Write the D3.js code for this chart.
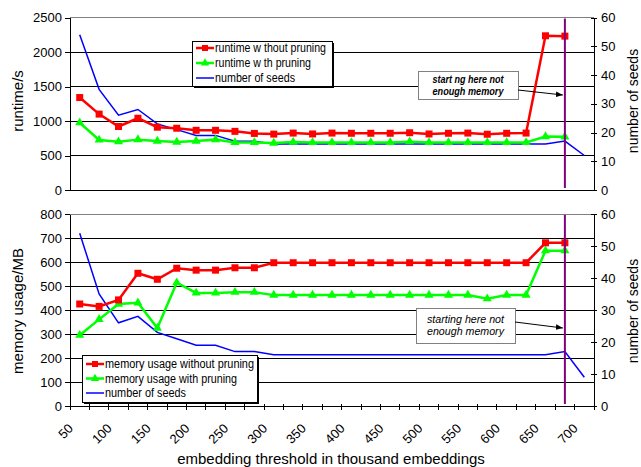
<!DOCTYPE html>
<html lang="en">
<head>
<meta charset="UTF-8">
<title>Runtime and memory vs embedding threshold</title>
<script src="https://d3js.org/d3.v7.min.js"></script>
<style>
    body { margin: 0; background: #fff; }
    svg { display: block; font-family: "Liberation Sans", Arial, sans-serif; }
    .axis text { font-size: 13px; fill: #000; font-family: "Liberation Sans", Arial, sans-serif; }
    .axis path, .axis line { stroke: #000; shape-rendering: crispEdges; }
    .grid { stroke-width: 1; shape-rendering: crispEdges; }
    .line { fill: none; }
    .legend text { font-size: 12px; }
</style>
</head>
<body>
<svg width="641" height="467"></svg>
<script>
    // categories (thousand embeddings)
    const thresholds = [50, 75, 100, 125, 150, 175, 200, 225, 250, 275, 300, 325, 350, 375,
        400, 425, 450, 475, 500, 525, 550, 575, 600, 625, 650, 675, 700];
    const xLabels = [50, 100, 150, 200, 250, 300, 350, 400, 450, 500, 550, 600, 650, 700];

    // top chart: runtime in seconds
    const runtimeWithout = [1340, 1100, 920, 1040, 910, 895, 865, 865, 850, 820, 810, 825, 812,
        825, 822, 822, 822, 830, 812, 822, 825, 808, 822, 825, 2235, 2230];
    const runtimeWith = [975, 725, 700, 730, 710, 695, 710, 730, 690, 690, 680, 695, 690,
        690, 690, 690, 690, 700, 690, 690, 690, 690, 690, 690, 775, 770];
    const seedsTop = [54, 35, 26, 28, 23, 21, 19, 19, 17, 17, 16, 16, 16, 16, 16, 16, 16, 16,
        16, 16, 16, 16, 16, 16, 16, 17, 12];

    // bottom chart: memory usage in MB
    const memWithout = [425, 415, 442, 553, 528, 574, 566, 566, 576, 576, 597, 597, 597, 597,
        597, 597, 597, 597, 597, 597, 597, 597, 597, 597, 680, 680];
    const memWith = [295, 361, 425, 430, 325, 514, 471, 471, 474, 474, 462, 462, 462, 462,
        462, 462, 462, 462, 462, 462, 462, 447, 462, 462, 647, 647];
    const seedsBottom = [54, 35, 26, 28, 23, 21, 19, 19, 17, 17, 16, 16, 16, 16, 16, 16, 16, 16,
        16, 16, 16, 16, 16, 16, 16, 17, 9];

    const runtimeTicks = [0, 500, 1000, 1500, 2000, 2500];
    const memTicks = [0, 100, 200, 300, 400, 500, 600, 700, 800];
    const seedTicks = [0, 10, 20, 30, 40, 50, 60];
    const memoryLimitAt = 675;

    const svg = d3.select("svg");
    const left = 70, right = 594;

    const x = d3.scaleBand().domain(thresholds).range([left, right]);
    const cx = v => x(v) + x.bandwidth() / 2;

    const red = "#ff0000", green = "#00ff00", blue = "#0000ff", purple = "#800080";

    svg.append("defs").append("marker")
        .attr("id", "arrow")
        .attr("viewBox", "0 0 10 10")
        .attr("refX", 10).attr("refY", 5)
        .attr("markerWidth", 7).attr("markerHeight", 7)
        .attr("orient", "auto")
        .append("path").attr("d", "M0,1L10,5L0,9Z").attr("fill", "#000");

    function panel(cfg) {
        const yL = d3.scaleLinear().domain([0, d3.max(cfg.leftTicks)]).range([cfg.bottom, cfg.top]);
        const yR = d3.scaleLinear().domain([0, 60]).range([cfg.bottom, cfg.top]);
        const g = svg.append("g");

        // gridlines (top one is the grey plot border)
        g.selectAll(".grid").data(cfg.leftTicks.slice(1)).join("line")
            .attr("class", "grid")
            .attr("x1", left).attr("x2", right)
            .attr("y1", d => yL(d)).attr("y2", d => yL(d))
            .attr("stroke", (d, i, n) => i === n.length - 1 ? "#808080" : "#000");

        // left axis
        g.append("g").attr("class", "axis")
            .attr("transform", "translate(" + left + ",0)")
            .call(d3.axisLeft(yL).tickValues(cfg.leftTicks).tickFormat(d3.format("d"))
                .tickSize(5).tickSizeOuter(0).tickPadding(3));

        // right axis, ticks cross the line
        const ra = g.append("g").attr("class", "axis")
            .attr("transform", "translate(" + right + ",0)")
            .call(d3.axisRight(yR).tickValues(seedTicks).tickSize(3).tickSizeOuter(0).tickPadding(4));
        ra.selectAll(".tick line").attr("x1", -3);

        // bottom axis line
        g.append("line")
            .attr("x1", left).attr("x2", right)
            .attr("y1", cfg.bottom).attr("y2", cfg.bottom)
            .attr("stroke", "#000").attr("shape-rendering", "crispEdges");

        // axis titles
        g.append("text")
            .attr("transform", "translate(23," + cfg.labelY + ") rotate(-90)")
            .attr("text-anchor", "middle").attr("font-size", 15)
            .text(cfg.leftLabel);
        g.append("text")
            .attr("transform", "translate(638," + cfg.labelY + ") rotate(-90)")
            .attr("text-anchor", "middle").attr("font-size", 14)
            .text("number of seeds");

        const lineL = d3.line().x((d, i) => cx(thresholds[i])).y(d => yL(d));
        const lineR = d3.line().x((d, i) => cx(thresholds[i])).y(d => yR(d));

        g.append("path").attr("class", "line").attr("d", lineR(cfg.seeds))
            .attr("stroke", blue).attr("stroke-width", 1.5);
        g.append("path").attr("class", "line").attr("d", lineL(cfg.withPruning))
            .attr("stroke", green).attr("stroke-width", 2.5);
        g.append("path").attr("class", "line").attr("d", lineL(cfg.withoutPruning))
            .attr("stroke", red).attr("stroke-width", 2.5);

        g.selectAll(".tri").data(cfg.withPruning).join("path")
            .attr("transform", (d, i) => "translate(" + cx(thresholds[i]) + "," + yL(d) + ")")
            .attr("d", d3.symbol(d3.symbolTriangle, 36)).attr("fill", green);
        g.selectAll(".sq").data(cfg.withoutPruning).join("path")
            .attr("transform", (d, i) => "translate(" + cx(thresholds[i]) + "," + yL(d) + ")")
            .attr("d", d3.symbol(d3.symbolSquare, 49)).attr("fill", red);

        // memory limit line
        g.append("line")
            .attr("x1", cx(memoryLimitAt)).attr("x2", cx(memoryLimitAt))
            .attr("y1", cfg.top + 1).attr("y2", cfg.bottom - 2)
            .attr("stroke", purple).attr("stroke-width", 2);

        // note
        const n = cfg.note;
        g.append("rect").attr("x", n.x).attr("y", n.y).attr("width", n.w).attr("height", n.h)
            .attr("fill", "#fff").attr("stroke", "#808080").attr("shape-rendering", "crispEdges");
        n.lines.forEach((t, i) => {
            g.append("text")
                .attr("x", n.x + n.w / 2).attr("y", n.y + n.first + i * n.step)
                .attr("text-anchor", "middle").attr("font-size", n.size)
                .attr("font-style", "italic").attr("font-weight", n.weight)
                .attr("textLength", n.len).attr("lengthAdjust", "spacingAndGlyphs")
                .text(t);
        });
        g.append("line")
            .attr("x1", n.x + n.w).attr("y1", n.arrowY0)
            .attr("x2", cx(memoryLimitAt) - 2).attr("y2", n.arrowY1)
            .attr("stroke", "#000").attr("marker-end", "url(#arrow)");

        // legend
        const lg = cfg.legend;
        const leg = g.append("g").attr("class", "legend");
        leg.append("rect").attr("x", lg.x + 2).attr("y", lg.y + 2).attr("width", lg.w).attr("height", lg.h)
            .attr("fill", "#000");
        leg.append("rect").attr("x", lg.x).attr("y", lg.y).attr("width", lg.w).attr("height", lg.h)
            .attr("fill", "#fff").attr("stroke", "#000").attr("shape-rendering", "crispEdges");
        const items = [
            {color: red, width: 2.5, sym: d3.symbolSquare, size: 36},
            {color: green, width: 2.5, sym: d3.symbolTriangle, size: 30},
            {color: blue, width: 1.5, sym: null}
        ];
        items.forEach((it, i) => {
            const yy = lg.y + lg.row0 + i * lg.step;
            leg.append("line").attr("x1", lg.x + 4).attr("x2", lg.x + 22)
                .attr("y1", yy).attr("y2", yy)
                .attr("stroke", it.color).attr("stroke-width", it.width);
            if (it.sym) {
                leg.append("path").attr("transform", "translate(" + (lg.x + 13) + "," + yy + ")")
                    .attr("d", d3.symbol(it.sym, it.size)).attr("fill", it.color);
            }
            leg.append("text").attr("x", lg.x + 23).attr("y", yy).attr("dy", "0.35em")
                .attr("textLength", lg.lens[i]).attr("lengthAdjust", "spacingAndGlyphs")
                .text(lg.names[i]);
        });
    }

    panel({
        top: 17.5, bottom: 190, labelY: 101,
        leftTicks: runtimeTicks, leftLabel: "runtime/s",
        withoutPruning: runtimeWithout, withPruning: runtimeWith, seeds: seedsTop,
        note: {x: 418, y: 71, w: 100, h: 28, first: 12, step: 12, size: 10.5, weight: "bold", len: 71,
            lines: ["start ng here not", "enough memory"], arrowY0: 90, arrowY1: 95},
        legend: {x: 192, y: 41, w: 140, h: 45, row0: 7, step: 15, lens: [111, 96, 80],
            names: ["runtime w thout pruning", "runtime w th pruning", "number of seeds"]}
    });

    panel({
        top: 214, bottom: 406, labelY: 311,
        leftTicks: memTicks, leftLabel: "memory usage/MB",
        withoutPruning: memWithout, withPruning: memWith, seeds: seedsBottom,
        note: {x: 416, y: 308, w: 99, h: 35, first: 15, step: 12, size: 11, weight: "normal", len: 77,
            lines: ["starting here not", "enough memory"], arrowY0: 322, arrowY1: 328},
        legend: {x: 82, y: 355, w: 175, h: 47, row0: 9, step: 14.5, lens: [149, 132, 81],
            names: ["memory usage without pruning", "memory usage with pruning", "number of seeds"]}
    });

    // x axis of bottom chart: tick marks on category edges, labels every other category
    const xa = svg.append("g").attr("class", "axis");
    xa.selectAll(".edge").data(d3.range(thresholds.length + 1)).join("line")
        .attr("x1", i => left + i * x.step()).attr("x2", i => left + i * x.step())
        .attr("y1", 404).attr("y2", 410);
    xa.selectAll(".lab").data(xLabels).join("text")
        .attr("transform", d => "translate(" + (cx(d) - 9) + ",426) rotate(-45)")
        .attr("dy", "0.35em").attr("text-anchor", "end")
        .text(d => d);

    svg.append("text")
        .attr("x", 331).attr("y", 464)
        .attr("text-anchor", "middle").attr("font-size", 15)
        .text("embedding threshold in thousand embeddings");
</script>
</body>
</html>
